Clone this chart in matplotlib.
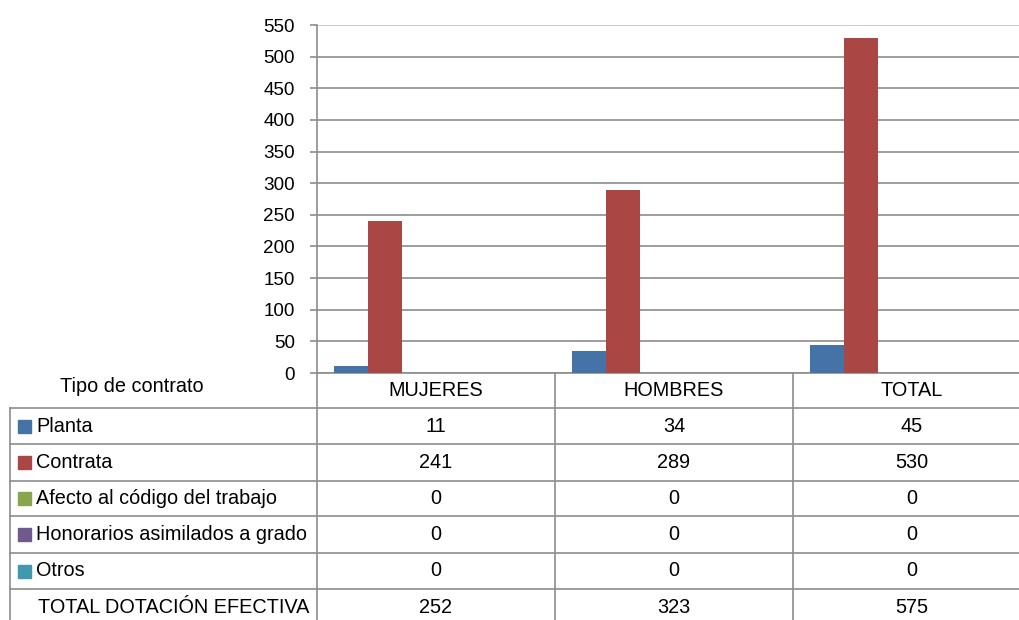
import matplotlib.pyplot as plt
import numpy as np

plt.rcParams['font.family'] = ['Liberation Sans', 'DejaVu Sans']

categories = ['MUJERES', 'HOMBRES', 'TOTAL']
series_names = ['Planta', 'Contrata', 'Afecto al código del trabajo',
                'Honorarios asimilados a grado', 'Otros']
planta = [11, 34, 45]
contrata = [241, 289, 530]
afecto = [0, 0, 0]
honorarios = [0, 0, 0]
otros = [0, 0, 0]
total_dotacion = [252, 323, 575]
total_label = 'TOTAL DOTACIÓN EFECTIVA'
row_header = 'Tipo de contrato'
y_ticks = list(range(0, 551, 50))

series = [planta, contrata, afecto, honorarios, otros]
colors = ['#4572A7', '#AA4643', '#89A54E', '#71588F', '#4198AF']
line_col = '#8c8c8c'
fs_tick = 13.6
fs = 14.3

W, H = 1019, 620
fig = plt.figure(figsize=(W / 100, H / 100), dpi=100)

# chart area (right edge runs a bit past the picture, like the original)
x0, x1, y_top, y_zero = 317, 1031, 25, 373
ax = fig.add_axes([x0 / W, (H - y_zero) / H, (x1 - x0) / W, (y_zero - y_top) / H])
n_slots = len(series) + 1  # total row is an unfilled series
bw = 1 / (n_slots + 1)
cats = np.arange(len(categories))
for i, vals in enumerate(series):
    ax.bar(cats + (i + 1) * bw, vals, width=bw, color=colors[i], zorder=3)
ax.bar(cats + n_slots * bw, total_dotacion, width=bw, fill=False, linewidth=0)

ax.set_xlim(0, len(categories))
ax.set_ylim(0, 550)
ax.set_yticks(y_ticks)
ax.set_xticks([])
ax.yaxis.grid(True, color=line_col, linewidth=1.2, zorder=0)
ax.get_ygridlines()[-1].set_color('#c4c4c4')
ax.set_axisbelow(True)
for s in ['top', 'right']:
    ax.spines[s].set_visible(False)
for s in ['left', 'bottom']:
    ax.spines[s].set_color(line_col)
    ax.spines[s].set_linewidth(1.2)
ax.tick_params(axis='y', length=5, width=1.2, color=line_col, pad=11, labelsize=fs_tick)

# data table below the chart, drawn in pixel coordinates
tb = fig.add_axes([0, 0, 1, 1], zorder=-1)
tb.set_xlim(0, W)
tb.set_ylim(H, 0)
tb.axis('off')

col_edges = [10, 317, 555, 793, 1031]
row_edges = [373, 408, 444, 481, 516, 553, 589, 626]
for y in row_edges[1:-1]:
    tb.plot([col_edges[0], col_edges[-1]], [y, y], color=line_col, lw=1.2)
tb.plot([col_edges[0]] * 2, [row_edges[1], row_edges[-1]], color=line_col, lw=1.2)
for x in col_edges[1:]:
    tb.plot([x, x], [row_edges[0], row_edges[-1]], color=line_col, lw=1.2)

col_mid = [(col_edges[j] + col_edges[j + 1]) / 2 for j in range(1, 4)]
tb.text(132, 387, row_header, ha='center', va='center', fontsize=fs)
for j, c in enumerate(categories):
    tb.text(col_mid[j], 391, c, ha='center', va='center', fontsize=fs)

rows = list(zip(series_names, series, colors)) + [(total_label, total_dotacion, None)]
for r, (name, vals, col) in enumerate(rows):
    yc = (row_edges[r + 1] + row_edges[r + 2]) / 2
    if col is not None:
        tb.add_patch(plt.Rectangle((18, yc - 6.5), 13, 13, color=col))
        tb.text(36, yc, name, ha='left', va='center', fontsize=fs)
    else:
        tb.text(38, yc, name, ha='left', va='center', fontsize=fs)
    for j, v in enumerate(vals):
        tb.text(col_mid[j], yc, str(v), ha='center', va='center', fontsize=fs)

fig.savefig('out.png', dpi=100)
